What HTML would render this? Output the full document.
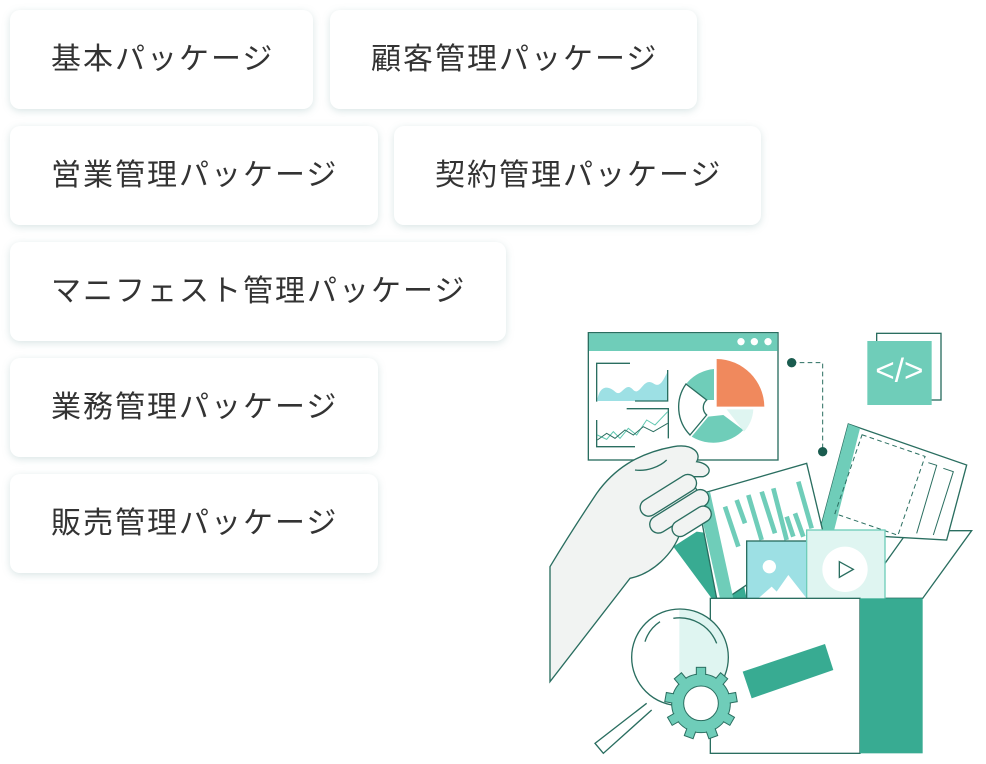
<!DOCTYPE html>
<html><head><meta charset="utf-8"><style>
body{margin:0;width:986px;height:764px;background:#fff;position:relative;overflow:hidden;font-family:"Liberation Sans","Noto Sans CJK JP",sans-serif}
.b{position:absolute;height:99px;background:#fff;border-radius:10px;box-shadow:0 2px 8px rgba(120,160,160,0.28);box-sizing:border-box;padding-left:41px;line-height:99px;font-size:30px;letter-spacing:2px;color:#333;white-space:nowrap}
svg{position:absolute;left:540px;top:320px}
</style></head><body>
<div class="b" style="left:10px;top:10px;width:303px">基本パッケージ</div>
<div class="b" style="left:330px;top:10px;width:367px">顧客管理パッケージ</div>
<div class="b" style="left:10px;top:126px;width:368px">営業管理パッケージ</div>
<div class="b" style="left:394px;top:126px;width:367px">契約管理パッケージ</div>
<div class="b" style="left:10px;top:242px;width:496px">マニフェスト管理パッケージ</div>
<div class="b" style="left:10px;top:358px;width:368px">業務管理パッケージ</div>
<div class="b" style="left:10px;top:474px;width:368px">販売管理パッケージ</div>
<svg width="446" height="444" viewBox="0 0 1338 1332">
<g stroke="#2a6e60" stroke-width="4" fill="none">
<rect x="1010" y="40" width="193" height="200" fill="#fff"/>
<rect x="982" y="63" width="193" height="192" fill="#6fcdb9" stroke="none"/>
<rect x="145" y="38" width="569" height="382" fill="#fff"/>
<rect x="147" y="40" width="565" height="53" fill="#6fcdb9" stroke="none"/>
<circle cx="603" cy="65" r="11" fill="#fff" stroke="none"/><circle cx="643" cy="65" r="11" fill="#fff" stroke="none"/><circle cx="684" cy="65" r="11" fill="#fff" stroke="none"/>
<path d="M170 245 V130 H270"/>
<path d="M172 240 C180 190 210 200 225 215 C245 235 255 180 280 210 C300 230 310 170 340 190 C360 205 370 180 383 155 V243 H172Z" fill="#9de0e4" stroke="none"/>
<path d="M285 243 H383 V150"/>
<path d="M170 300 V380 H285 M260 266 H385 V355"/>
<path d="M172 345 L200 358 L220 335 L240 355 L265 325 L290 345 L320 300 L345 315 L383 275" stroke="#5fc7b0" stroke-width="3"/>
<path d="M172 360 L200 340 L225 355 L255 330 L280 345 L310 320 L340 335 L383 310" stroke-width="3"/>
<path d="M530 117 A145 145 0 0 1 673 260 L530 260Z" fill="#f0895d" stroke="none"/>
<path d="M522 147 A120 120 0 0 0 440 190 L500 240 L522 240Z" fill="#6fcdb9" stroke="none"/>
<path d="M438 192 A120 120 0 0 0 450 345 L500 285 A30 30 0 0 1 500 240Z" fill="#fff"/>
<path d="M455 350 A125 125 0 0 0 610 330 L550 285 L505 290Z" fill="#6fcdb9" stroke="none"/>
<path d="M560 268 L640 268 A110 110 0 0 1 612 335Z" fill="#dff5f1" stroke="none"/>
<path d="M755 128 H848 V395" stroke-dasharray="14 10" stroke="#2a6e60" stroke-width="3"/>
<polygon points="960,835 1105,632 1295,632 1148,835" fill="#fff"/>
<polygon points="925,312 1280,435 1220,660 860,640 840,630" fill="#fff"/>
<polygon points="925,312 960,325 880,640 840,630" fill="#6fcdb9" stroke="none"/>
<rect x="920" y="370" width="200" height="250" stroke-dasharray="14 10" transform="rotate(19 1020 495)" stroke-width="3"/>
<path d="M1165 428 L1190 436 L1130 640 M1210 445 L1240 455 L1180 645" stroke-width="3"/>
<polygon points="400,680 470,635 580,650 620,835 515,835" fill="#38ab92" stroke="none"/>
<polygon points="470,525 800,430 850,640 560,835 530,835" fill="#fff"/>
<polygon points="470,525 510,515 580,835 540,835" fill="#6fcdb9" stroke="none"/>
<g stroke="#6fcdb9" stroke-width="14"><path d="M555 560 L595 680 M590 540 L615 610 M625 525 L665 660 M665 515 L705 640 M700 505 L740 660 M740 590 L760 650 M775 485 L815 625 M765 580 L790 650"/></g>
<rect x="620" y="663" width="210" height="180" fill="#9de0e4"/>
<circle cx="688" cy="740" r="20" fill="#fff" stroke="none"/>
<polygon points="655,835 695,800 710,815 745,765 800,835" fill="#fff" stroke="none"/>
<rect x="800" y="630" width="235" height="210" fill="#dff5f1" stroke="#6fcdb9"/>
<circle cx="915" cy="748" r="68" fill="#fff" stroke="none"/>
<polygon points="898,725 940,748 898,772" fill="none"/>
<path d="M30 740 C90 640 130 580 170 520 C220 450 290 400 400 380 C460 370 485 400 470 425 C510 430 520 460 490 470 L450 470 C470 520 510 560 500 590 L420 640 C400 700 340 760 270 775 L30 1085Z" fill="#f1f3f2"/>
<path d="M285 450 C320 455 360 440 380 420" />
<rect x="290" y="500" width="190" height="52" rx="26" fill="#f1f3f2" transform="rotate(-32 385 526)"/>
<rect x="318" y="548" width="200" height="52" rx="26" fill="#f1f3f2" transform="rotate(-32 418 574)"/>
<rect x="390" y="580" width="130" height="48" rx="24" fill="#f1f3f2" transform="rotate(-32 455 604)"/>
<rect x="511" y="835" width="449" height="465" fill="#fff"/>
<rect x="960" y="835" width="188" height="465" fill="#38ab92" stroke="none"/>
<polygon points="608,1055 855,972 880,1050 635,1135" fill="#38ab92" stroke="none"/>
<path d="M320 1150 L165 1270 L190 1300 L335 1170" fill="#fff"/>
<path d="M418 868 A145 145 0 0 1 418 1158Z" fill="#dff5f1" stroke="none"/>
<circle cx="420" cy="1012" r="145"/>
<path d="M315 965 A110 110 0 0 1 360 905 M400 895 A120 120 0 0 1 530 970"/>
<g transform="translate(483 1150)">
<circle r="88" fill="#6fcdb9" stroke-width="3"/>
<g fill="#6fcdb9" stroke-width="3">
<rect x="-14" y="-108" width="28" height="26"/><rect x="-14" y="-108" width="28" height="26" transform="rotate(40)"/><rect x="-14" y="-108" width="28" height="26" transform="rotate(80)"/><rect x="-14" y="-108" width="28" height="26" transform="rotate(120)"/><rect x="-14" y="-108" width="28" height="26" transform="rotate(160)"/><rect x="-14" y="-108" width="28" height="26" transform="rotate(200)"/><rect x="-14" y="-108" width="28" height="26" transform="rotate(240)"/><rect x="-14" y="-108" width="28" height="26" transform="rotate(280)"/><rect x="-14" y="-108" width="28" height="26" transform="rotate(320)"/>
</g>
<circle r="86" fill="#6fcdb9" stroke="none"/>
<circle r="52" fill="#fff" stroke-width="3"/>
</g>
</g>
<circle cx="755" cy="128" r="14" fill="#1a5c4f"/><circle cx="848" cy="395" r="14" fill="#1a5c4f"/>
<text x="1078" y="185" fill="#fff" font-family="Liberation Sans, sans-serif" font-size="100" text-anchor="middle">&lt;/&gt;</text>
</svg>
</body></html>
